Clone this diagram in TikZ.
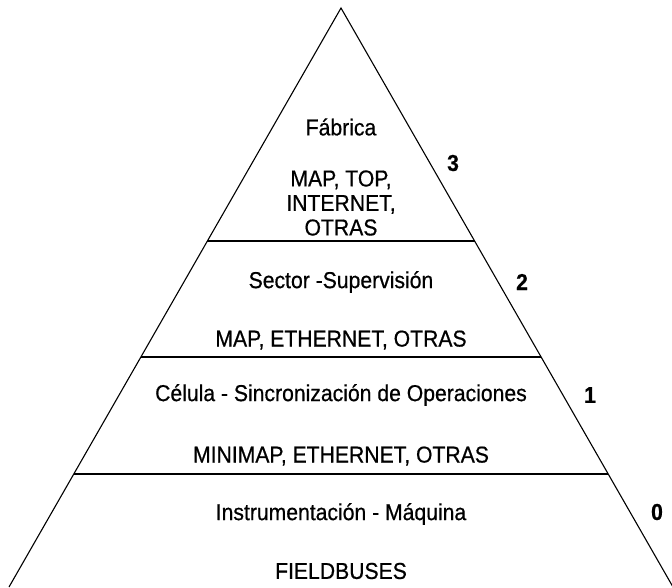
\documentclass[tikz,border=0pt]{standalone}
\usepackage{fontspec}
\setmainfont[FakeStretch=0.92,FakeBold=0.6]{Liberation Sans}
\usetikzlibrary{calc}

\begin{document}
\begin{tikzpicture}[x=1pt,y=-1pt,
  levtext/.style={font=\fontsize{23}{24.5}\selectfont, inner sep=0pt, align=center},
  levnum/.style={font=\fontsize{23}{24.5}\selectfont\bfseries, inner sep=0pt},
  side/.style={line width=1.1pt},
  divider/.style={line width=2.2pt}]
%\draw[help lines] (0,0) grid (672,587);
\useasboundingbox (0,0) rectangle (672,587);

% pyramid sides
\coordinate (apex) at (341,8);
\coordinate (baseL) at (9,587);
\coordinate (baseR) at (673,587);
\draw[side] (baseL) -- (apex) -- (baseR);

% level borders
\coordinate (l3) at ($(apex)!0.4024!(baseL)$);
\coordinate (r3) at ($(apex)!0.4024!(baseR)$);
\coordinate (l2) at ($(apex)!0.6028!(baseL)$);
\coordinate (r2) at ($(apex)!0.6028!(baseR)$);
\coordinate (l1) at ($(apex)!0.8048!(baseL)$);
\coordinate (r1) at ($(apex)!0.8048!(baseR)$);
\draw[divider] (l3) -- (r3);
\draw[divider] (l2) -- (r2);
\draw[divider] (l1) -- (r1);

% level 3
\node[levtext] (fabrica) at (341,127) {Fábrica};
\node[levtext] (red3) at (341,203) {MAP, TOP,\\INTERNET,\\OTRAS};
\node[levnum] (n3) at (453,163) {3};

% level 2
\node[levtext] (sector) at (341,282) {Sector -Supervisión};
\node[levtext] (red2) at (341,340) {MAP, ETHERNET, OTRAS};
\node[levnum] (n2) at (522,282) {2};

% level 1
\node[levtext] (celula) at (341,395) {Célula - Sincronización de Operaciones};
\node[levtext] (red1) at (341,456) {MINIMAP, ETHERNET, OTRAS};
\node[levnum] (n1) at (590,395) {1};

% level 0
\node[levtext] (instr) at (341,514) {Instrumentación - Máquina};
\node[levtext] (red0) at (341,571) {FIELDBUSES};
\node[levnum] (n0) at (657,512) {0};

\end{tikzpicture}
\end{document}
